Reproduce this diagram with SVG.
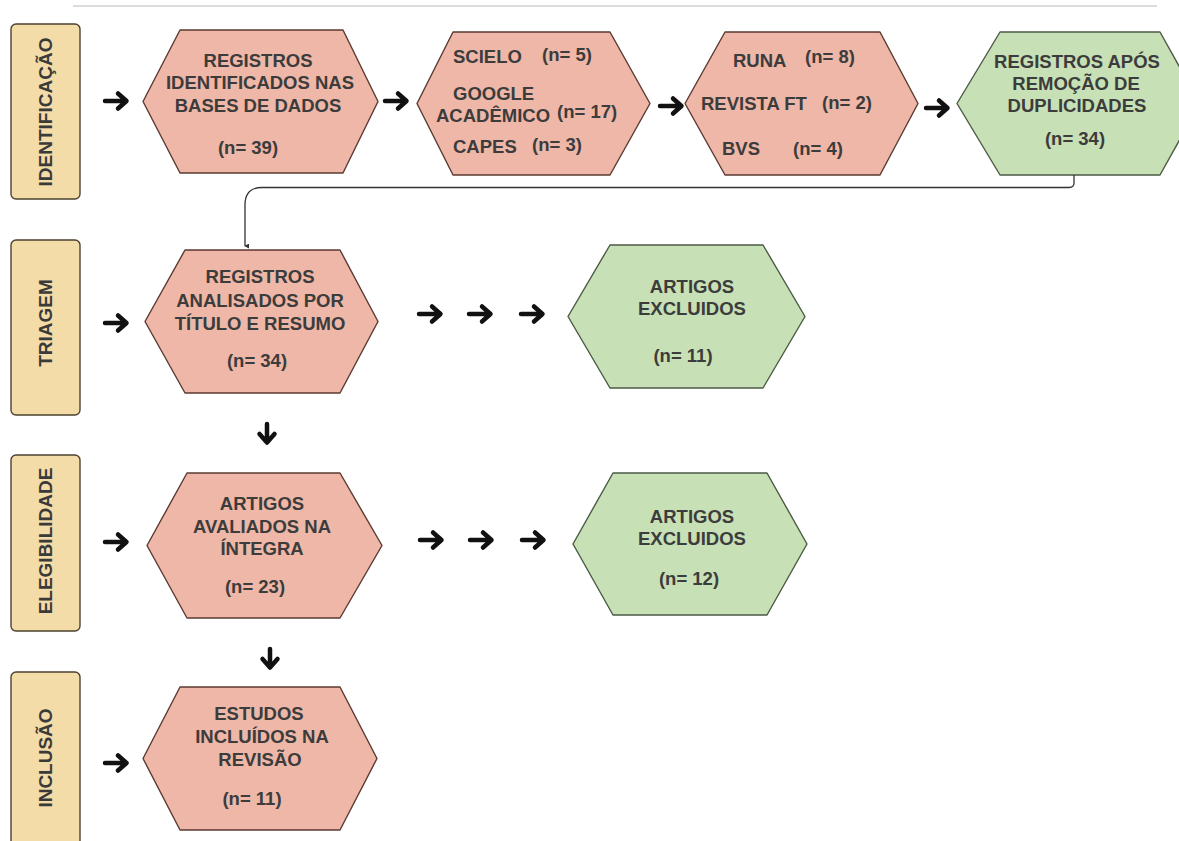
<svg xmlns="http://www.w3.org/2000/svg" width="1179" height="841" viewBox="0 0 1179 841">
<style>
.bg{fill:#ffffff}
.lab{fill:#f3dca7;stroke:#4e4232;stroke-width:1.4}
.labt{font-family:"Liberation Sans",Arial,sans-serif;font-weight:bold;font-size:19px;fill:#3a3a3a;text-anchor:middle}
.pink{fill:#efb7a7;stroke:#5a3a33;stroke-width:1.4;stroke-linejoin:round}
.green{fill:#c7e0b5;stroke:#4b5a45;stroke-width:1.4;stroke-linejoin:round}
.t{font-family:"Liberation Sans",Arial,sans-serif;font-weight:bold;font-size:18.5px;fill:#3c3c3c;text-anchor:middle}
.ts{font-family:"Liberation Sans",Arial,sans-serif;font-weight:bold;font-size:18.5px;fill:#3c3c3c;text-anchor:start}
.arr{fill:none;stroke:#111;stroke-width:4.5;stroke-linecap:round;stroke-linejoin:round}
.conn{fill:none;stroke:#333;stroke-width:1.3}
</style>
<defs>
<g id="ra"><path class="arr" d="M-11,0 H9 M2,-7.5 L10.5,0 L2,7.5"/></g>
<g id="da"><path class="arr" d="M0,-9 V8 M-7.5,1 L0,9.5 L7.5,1"/></g>
<marker id="sm" viewBox="0 0 6 6" refX="3" refY="5" markerWidth="5" markerHeight="5" orient="auto-start-reverse" markerUnits="userSpaceOnUse">
<path d="M0,0 L6,0 L3,6 Z" fill="#333"/>
</marker>
</defs>
<rect class="bg" x="0" y="0" width="1179" height="841"/>
<line x1="73" y1="6" x2="1157" y2="6" stroke="#dcdcdc" stroke-width="2"/>

<g id="label-identificacao">
<rect class="lab" x="11" y="24" width="69" height="175" rx="5"/>
<text class="labt" transform="translate(52,112) rotate(-90)">IDENTIFICAÇÃO</text>
</g>
<g id="label-triagem">
<rect class="lab" x="11" y="240" width="69" height="175" rx="5"/>
<text class="labt" transform="translate(52,323) rotate(-90)">TRIAGEM</text>
</g>
<g id="label-elegibilidade">
<rect class="lab" x="11" y="455" width="69" height="176" rx="5"/>
<text class="labt" transform="translate(52,541) rotate(-90)">ELEGIBILIDADE</text>
</g>
<g id="label-inclusao">
<rect class="lab" x="11" y="672" width="69" height="190" rx="5"/>
<text class="labt" transform="translate(52,758) rotate(-90)">INCLUSÃO</text>
</g>

<g id="n1">
<polygon class="pink" points="143,101.5 180,30 343,30 378,101.5 343,173 180,173"/>
<text class="t" x="258" y="67">REGISTROS</text>
<text class="t" x="260" y="89">IDENTIFICADOS NAS</text>
<text class="t" x="258" y="112">BASES DE DADOS</text>
<text class="t" x="248" y="154">(n= 39)</text>
</g>
<g id="n2">
<polygon class="pink" points="417,103.5 453,32 610,32 650,103.5 610,175 453,175"/>
<text class="ts" x="453" y="63">SCIELO</text>
<text class="ts" x="542" y="61">(n= 5)</text>
<text class="ts" x="453" y="100">GOOGLE</text>
<text class="ts" x="436" y="122">ACADÊMICO</text>
<text class="ts" x="557" y="118">(n= 17)</text>
<text class="ts" x="453" y="153">CAPES</text>
<text class="ts" x="532" y="151">(n= 3)</text>
</g>
<g id="n3">
<polygon class="pink" points="685,103.5 725,32 880,32 918,103.5 880,175 725,175"/>
<text class="ts" x="733" y="67">RUNA</text>
<text class="ts" x="805" y="63">(n= 8)</text>
<text class="ts" x="701" y="110">REVISTA FT</text>
<text class="ts" x="822" y="109">(n= 2)</text>
<text class="ts" x="722" y="155">BVS</text>
<text class="ts" x="793" y="155">(n= 4)</text>
</g>
<g id="n4">
<polygon class="green" points="957,103.5 1000,32 1160,32 1200,103.5 1160,175 1000,175"/>
<text class="t" x="1077" y="68">REGISTROS APÓS</text>
<text class="t" x="1076" y="90">REMOÇÃO DE</text>
<text class="t" x="1077" y="112">DUPLICIDADES</text>
<text class="t" x="1075" y="145">(n= 34)</text>
</g>
<g id="n5">
<polygon class="pink" points="145,321.5 185,250 340,250 378,321.5 340,393 185,393"/>
<text class="t" x="260" y="283">REGISTROS</text>
<text class="t" x="260" y="307">ANALISADOS POR</text>
<text class="t" x="260" y="330">TÍTULO E RESUMO</text>
<text class="t" x="257" y="367">(n= 34)</text>
</g>
<g id="n6">
<polygon class="green" points="568,316.5 610,245 763,245 805,316.5 763,388 610,388"/>
<text class="t" x="692" y="293">ARTIGOS</text>
<text class="t" x="692" y="315">EXCLUIDOS</text>
<text class="t" x="683" y="362">(n= 11)</text>
</g>
<g id="n7">
<polygon class="pink" points="147,545.5 187,473 340,473 382,545.5 340,618 187,618"/>
<text class="t" x="262" y="510">ARTIGOS</text>
<text class="t" x="262" y="533">AVALIADOS NA</text>
<text class="t" x="262" y="555">ÍNTEGRA</text>
<text class="t" x="255" y="593">(n= 23)</text>
</g>
<g id="n8">
<polygon class="green" points="573,544 613,473 767,473 807,544 767,615 613,615"/>
<text class="t" x="692" y="523">ARTIGOS</text>
<text class="t" x="692" y="545">EXCLUIDOS</text>
<text class="t" x="689" y="585">(n= 12)</text>
</g>
<g id="n9">
<polygon class="pink" points="143,758.5 180,687 340,687 377,758.5 340,830 180,830"/>
<text class="t" x="259" y="720">ESTUDOS</text>
<text class="t" x="262" y="743">INCLUÍDOS NA</text>
<text class="t" x="260" y="766">REVISÃO</text>
<text class="t" x="252" y="805">(n= 11)</text>
</g>

<g id="connectors">
<path class="conn" d="M1074,175 V183 Q1074,187.5 1069,187.5 H262 Q245,187.5 245,205 V246" marker-end="url(#sm)"/>
<use href="#ra" x="116" y="101"/>
<use href="#ra" x="396" y="101"/>
<use href="#ra" x="671" y="106"/>
<use href="#ra" x="937" y="108"/>
<use href="#ra" x="116" y="323"/>
<use href="#ra" x="430" y="314"/>
<use href="#ra" x="480" y="314"/>
<use href="#ra" x="532" y="314"/>
<use href="#da" x="267" y="433"/>
<use href="#ra" x="116" y="542"/>
<use href="#ra" x="431" y="540"/>
<use href="#ra" x="481" y="540"/>
<use href="#ra" x="533" y="540"/>
<use href="#da" x="270" y="658"/>
<use href="#ra" x="116" y="763"/>
</g>
</svg>
